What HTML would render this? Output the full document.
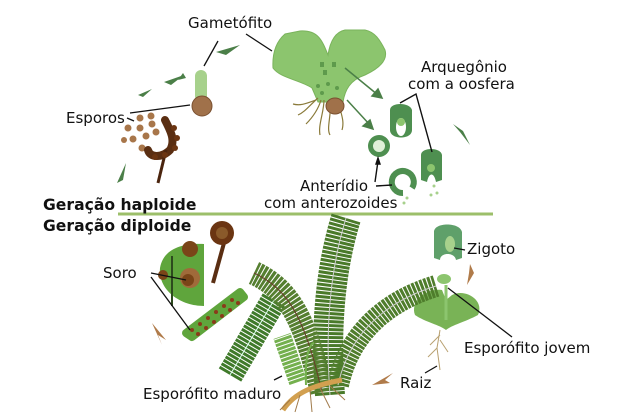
<!DOCTYPE html>
<html><head><meta charset="utf-8"><style>
html,body{margin:0;padding:0;background:#fff;}
svg{display:block;}
text{font-family:"DejaVu Sans","Liberation Sans",sans-serif;font-size:15px;fill:#111;}
.b{font-weight:bold;font-size:15.6px;}
</style></head><body>
<svg width="622" height="418" viewBox="0 0 622 418" xmlns="http://www.w3.org/2000/svg">
<rect width="622" height="418" fill="#fff"/>
<!-- divider -->
<line x1="118" y1="214" x2="493" y2="214" stroke="#9cbf6a" stroke-width="3"/>

<!-- gametophyte -->
<path d="M328,55 C322,40 318,30 300,31 L285,34 C278,40 272,50 273,68 C280,78 300,80 312,88 L318,102 L343,102 C345,90 350,80 365,75 C380,68 388,60 385,50 C380,40 375,32 365,30 L345,30 C335,32 330,42 328,55Z" fill="#8cc56e" stroke="#7ab35c"/>
<g fill="#5e9a4c"><rect x="320" y="62" width="4" height="5"/><rect x="332" y="62" width="4" height="5"/><rect x="323" y="70" width="4" height="5"/><circle cx="318" cy="86" r="2"/><circle cx="328" cy="84" r="2"/><circle cx="337" cy="88" r="2"/><circle cx="322" cy="93" r="2"/></g>
<g stroke="#8a7a3a" stroke-width="1.2" fill="none"><path d="M318,98 C310,105 305,112 298,115"/><path d="M321,100 C318,110 312,118 306,124"/><path d="M324,100 C324,112 318,125 320,135"/><path d="M330,100 C332,115 326,128 330,135"/><path d="M338,100 C340,112 345,120 342,130"/><path d="M316,100 C305,104 300,106 293,104"/></g>
<ellipse cx="335" cy="106" rx="9" ry="8" fill="#a0714a" stroke="#7a5030"/>
<g stroke="#4b7f48" stroke-width="1.5" fill="#4b7f48"><line x1="345" y1="68" x2="378" y2="95"/><polygon points="382,98 372,96 378,89"/><line x1="347" y1="100" x2="370" y2="125"/><polygon points="373,129 363,126 370,120"/></g>

<!-- germinating spore -->
<rect x="195" y="70" width="12" height="32" rx="6" fill="#a7d18c"/>
<circle cx="202" cy="106" r="10" fill="#a0714a" stroke="#7a5030"/>
<!-- spores -->
<g fill="#a8764a"><circle cx="140" cy="118" r="3.5"/><circle cx="151" cy="116" r="3.5"/><circle cx="128" cy="128" r="3.5"/><circle cx="140" cy="128" r="3.5"/><circle cx="152" cy="124" r="3.5"/><circle cx="133" cy="139" r="3.5"/><circle cx="146" cy="136" r="3.5"/><circle cx="156" cy="132" r="3.5"/><circle cx="142" cy="148" r="3.5"/><circle cx="124" cy="140" r="3"/></g>
<path d="M165,120 C170,130 176,140 170,150 C162,158 150,158 148,150" stroke="#5a2e12" stroke-width="8" fill="none" stroke-linecap="round"/>
<line x1="166" y1="150" x2="158" y2="183" stroke="#4a240e" stroke-width="3"/>
<g fill="#6b3512"><circle cx="174" cy="128" r="3"/><circle cx="177" cy="138" r="3"/><circle cx="175" cy="148" r="3"/><circle cx="165" cy="155" r="3"/><circle cx="155" cy="157" r="3"/></g>

<g fill="#4b7f48"><polygon points="117,183 126,163 123,180"/><polygon points="138,95 152,89 143,97"/><polygon points="164,82 184,75 171,85"/><polygon points="216,52 240,45 226,55"/><polygon points="183,73 178,80 186,78"/><polygon points="453,124 463,131 470,145 460,132"/></g>

<!-- archegonia -->
<path d="M390,110 C390,102 410,102 412,110 L412,130 C412,140 390,140 390,130Z" fill="#4e8f50"/>
<ellipse cx="401" cy="127" rx="5" ry="9" fill="#fff"/><circle cx="401" cy="122" r="4" fill="#8cc56e"/>
<path d="M421,155 C421,147 441,147 442,155 L442,180 L436,182 C434,172 429,172 427,182 L421,180Z" fill="#4e8f50"/>
<circle cx="431" cy="168" r="4" fill="#8cc56e"/>
<circle cx="379" cy="146" r="11" fill="#4e8f50"/><circle cx="379" cy="146" r="6" fill="#e0f0d8"/>
<path d="M403,193 A11,11 0 1 1 412,188" fill="none" stroke="#4e8f50" stroke-width="6"/>
<g fill="#a7d18c"><circle cx="407" cy="198" r="1.5"/><circle cx="404" cy="203" r="1.5"/><circle cx="434" cy="186" r="1.5"/><circle cx="437" cy="193" r="1.5"/><circle cx="431" cy="195" r="1.5"/></g>
<g stroke="#111" stroke-width="1.4" fill="none"><path d="M400,103 L416,94 L432,152"/><line x1="375" y1="182" x2="378" y2="161"/><polygon points="378,158 376,164 380,164" fill="#111"/><line x1="376" y1="186" x2="392" y2="185"/></g>

<!-- zygote -->
<path d="M434,232 C434,222 460,222 462,232 L462,258 L456,260 C455,252 440,252 440,260 L434,258Z" fill="#5fa06a"/>
<ellipse cx="450" cy="244" rx="5" ry="8" fill="#a7d18c"/>
<line x1="454" y1="248" x2="465" y2="250" stroke="#111" stroke-width="1.3"/>
<polygon points="470,264 474,273 467,285 469,273" fill="#b07b4a"/>

<!-- young sporophyte -->
<path d="M442,290 C425,288 410,302 415,315 C425,322 440,325 446,330 C452,325 465,322 478,315 C485,300 465,288 452,295 L446,300Z" fill="#79b356"/>
<line x1="446" y1="285" x2="446" y2="320" stroke="#8cc56e" stroke-width="3"/>
<ellipse cx="444" cy="279" rx="7" ry="5" fill="#8cc56e"/>
<g stroke="#b8a070" stroke-width="1" fill="none"><path d="M440,330 L437,348 L440,370"/><path d="M440,335 L430,345"/><path d="M440,340 L448,352"/><path d="M437,348 L428,357"/></g>
<line x1="448" y1="288" x2="512" y2="337" stroke="#111" stroke-width="1.3"/>
<line x1="425" y1="373" x2="437" y2="366" stroke="#111" stroke-width="1.3"/>
<polygon points="372,385 393,373 385,380 390,383" fill="#b07b4a"/>

<!-- sorus stalk -->
<line x1="224" y1="243" x2="213" y2="283" stroke="#5a2e12" stroke-width="4"/>
<circle cx="222" cy="233" r="12" fill="#6b3512"/><circle cx="222" cy="233" r="6" fill="#8a5a2a"/>
<path d="M204,244 L204,306 C180,306 158,290 160,268 C163,250 180,243 204,244Z" fill="#5fa53c"/>
<line x1="172" y1="256" x2="172" y2="306" stroke="#2d4a1e" stroke-width="2"/>
<g fill="#7a4518"><circle cx="190" cy="249" r="8"/><circle cx="190" cy="278" r="10" fill="#a06a3a"/><circle cx="188" cy="280" r="6"/><circle cx="163" cy="275" r="5"/></g>
<path d="M186,333 L240,292 L244,297 L192,337Z" fill="#5fa53c" stroke="#5fa53c" stroke-width="8" stroke-linejoin="round"/>
<g fill="#8a3a1a"><circle cx="192" cy="330" r="2"/><circle cx="200" cy="324" r="2"/><circle cx="208" cy="318" r="2"/><circle cx="216" cy="312" r="2"/><circle cx="224" cy="306" r="2"/><circle cx="232" cy="300" r="2"/><circle cx="198" cy="334" r="2"/><circle cx="206" cy="328" r="2"/><circle cx="214" cy="322" r="2"/><circle cx="222" cy="316" r="2"/><circle cx="230" cy="310" r="2"/><circle cx="238" cy="303" r="2"/></g>
<g stroke="#111" stroke-width="1.3"><line x1="151" y1="273" x2="186" y2="280"/><line x1="151" y1="277" x2="190" y2="330"/></g>
<polygon points="152,323 166,340 158,335 162,345" fill="#b07b4a"/>

<!-- fern fronds -->
<g fill="none" stroke-linecap="butt">
<path d="M230,375 L274,300" stroke="#3f7a2a" stroke-width="26" stroke-dasharray="3 1"/>
<path d="M230,375 L274,300" stroke="#dfe" stroke-width="1"/>
<path d="M330,395 C325,330 330,270 346,218" stroke="#4a7a2a" stroke-width="30" stroke-dasharray="3 1"/>
<path d="M322,392 C305,320 290,290 254,273" stroke="#557f30" stroke-width="24" stroke-dasharray="3 1"/>
<path d="M338,385 C350,330 390,300 436,286" stroke="#4f7d2c" stroke-width="22" stroke-dasharray="3 1"/>
<path d="M330,395 C325,330 330,270 346,218" stroke="#ccc" stroke-width="1"/>
<path d="M322,392 C305,320 290,290 254,273" stroke="#6a3a2a" stroke-width="1"/>
<path d="M338,385 C350,330 390,300 436,286" stroke="#ccc" stroke-width="1"/>
<path d="M298,382 L282,336" stroke="#74b04e" stroke-width="18" stroke-dasharray="3 1"/>
<path d="M306,385 C305,360 308,345 314,343" stroke="#74b04e" stroke-width="2"/>
</g>
<path d="M283,410 C295,392 315,385 342,380" stroke="#d2a050" stroke-width="5" fill="none"/>
<g stroke="#a07a4a" stroke-width="1" fill="none"><path d="M300,395 L295,412"/><path d="M310,390 L312,412"/><path d="M320,388 L330,408"/><path d="M330,386 L345,400"/><path d="M290,400 L280,410"/></g>
<line x1="274" y1="380" x2="282" y2="376" stroke="#111" stroke-width="1.3"/>

<!-- text -->
<text x="188" y="28">Gametófito</text>
<line x1="218" y1="41" x2="204" y2="66" stroke="#111" stroke-width="1.3"/>
<line x1="246" y1="34" x2="272" y2="51" stroke="#111" stroke-width="1.3"/>
<text x="66" y="123">Esporos</text>
<line x1="130" y1="113" x2="190" y2="105" stroke="#111" stroke-width="1.3"/>
<line x1="127" y1="118" x2="134" y2="121" stroke="#111" stroke-width="1.3"/>
<text x="421" y="72">Arquegônio</text>
<text x="408" y="89">com a oosfera</text>
<text x="300" y="191">Anterídio</text>
<text x="264" y="208">com anterozoides</text>
<text class="b" x="43" y="210">Geração haploide</text>
<text class="b" x="43" y="231">Geração diploide</text>
<text x="103" y="278">Soro</text>
<text x="467" y="254">Zigoto</text>
<text x="464" y="353">Esporófito jovem</text>
<text x="400" y="388">Raiz</text>
<text x="143" y="399">Esporófito maduro</text>
</svg>
</body></html>
